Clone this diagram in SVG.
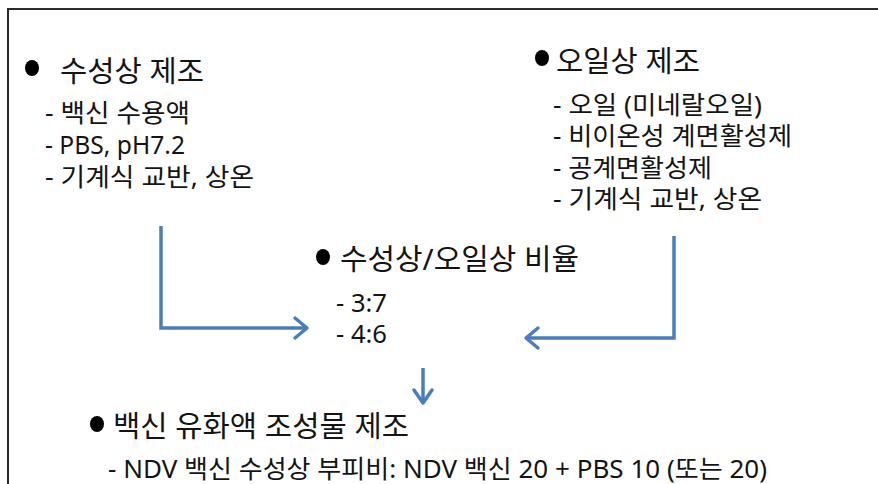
<svg xmlns="http://www.w3.org/2000/svg" width="878" height="484" viewBox="0 0 878 484">
<style>
text{font-family:"Noto Sans","Noto Sans CJK KR",sans-serif;fill:#141414}
.t{font-size:29px}
.s{font-size:25.5px}
.dot{fill:#000}
.c{fill:none;stroke:#4a7ebb;stroke-width:3.5;stroke-linejoin:miter}
.h{fill:none;stroke:#4a7ebb;stroke-width:3.5;stroke-linecap:round;stroke-linejoin:round}
</style>
<rect width="878" height="484" fill="#fff"/>
<path d="M8,486 V9 H880" fill="none" stroke="#2a2a2a" stroke-width="2"/>
<g id="aqueous">
<ellipse class="dot" cx="32" cy="68" rx="7" ry="8"/>
<text class="t" x="60" y="82" textLength="144" lengthAdjust="spacingAndGlyphs">수성상 제조</text>
<text class="s" x="45" y="122" textLength="145" lengthAdjust="spacingAndGlyphs">- 백신 수용액</text>
<text class="s" x="45" y="154" textLength="140" lengthAdjust="spacingAndGlyphs">- PBS, pH7.2</text>
<text class="s" x="45" y="186" textLength="209" lengthAdjust="spacingAndGlyphs">- 기계식 교반, 상온</text>
</g>
<g id="oil">
<ellipse class="dot" cx="542" cy="58" rx="7" ry="8"/>
<text class="t" x="556" y="72" textLength="144" lengthAdjust="spacingAndGlyphs">오일상 제조</text>
<text class="s" x="553" y="114" textLength="209" lengthAdjust="spacingAndGlyphs">- 오일 (미네랄오일)</text>
<text class="s" x="553" y="145" textLength="239" lengthAdjust="spacingAndGlyphs">- 비이온성 계면활성제</text>
<text class="s" x="553" y="177" textLength="159" lengthAdjust="spacingAndGlyphs">- 공계면활성제</text>
<text class="s" x="553" y="208" textLength="209" lengthAdjust="spacingAndGlyphs">- 기계식 교반, 상온</text>
</g>
<g id="ratio">
<ellipse class="dot" cx="323" cy="257" rx="7" ry="8"/>
<text class="t" x="340" y="270" textLength="239" lengthAdjust="spacingAndGlyphs">수성상/오일상 비율</text>
<text class="s" x="336" y="312" textLength="51" lengthAdjust="spacingAndGlyphs">- 3:7</text>
<text class="s" x="336" y="343" textLength="51" lengthAdjust="spacingAndGlyphs">- 4:6</text>
</g>
<g id="emulsion">
<ellipse class="dot" cx="97" cy="424" rx="7" ry="8"/>
<text class="t" x="113" y="437" textLength="296" lengthAdjust="spacingAndGlyphs">백신 유화액 조성물 제조</text>
<text class="s" x="108" y="478" textLength="659" lengthAdjust="spacingAndGlyphs">- NDV 백신 수성상 부피비: NDV 백신 20 + PBS 10 (또는 20)</text>
</g>
<g id="connectors">
<path class="c" d="M161,226 V328 H306"/>
<path class="h" d="M295,318 L307,328 L295,338"/>
<path class="c" d="M674,236 V338 H527"/>
<path class="h" d="M538,328 L526,338 L538,348"/>
<path class="c" d="M423,368 V403"/>
<path class="h" d="M414,390 L423,403 L432,390"/>
</g>
</svg>
